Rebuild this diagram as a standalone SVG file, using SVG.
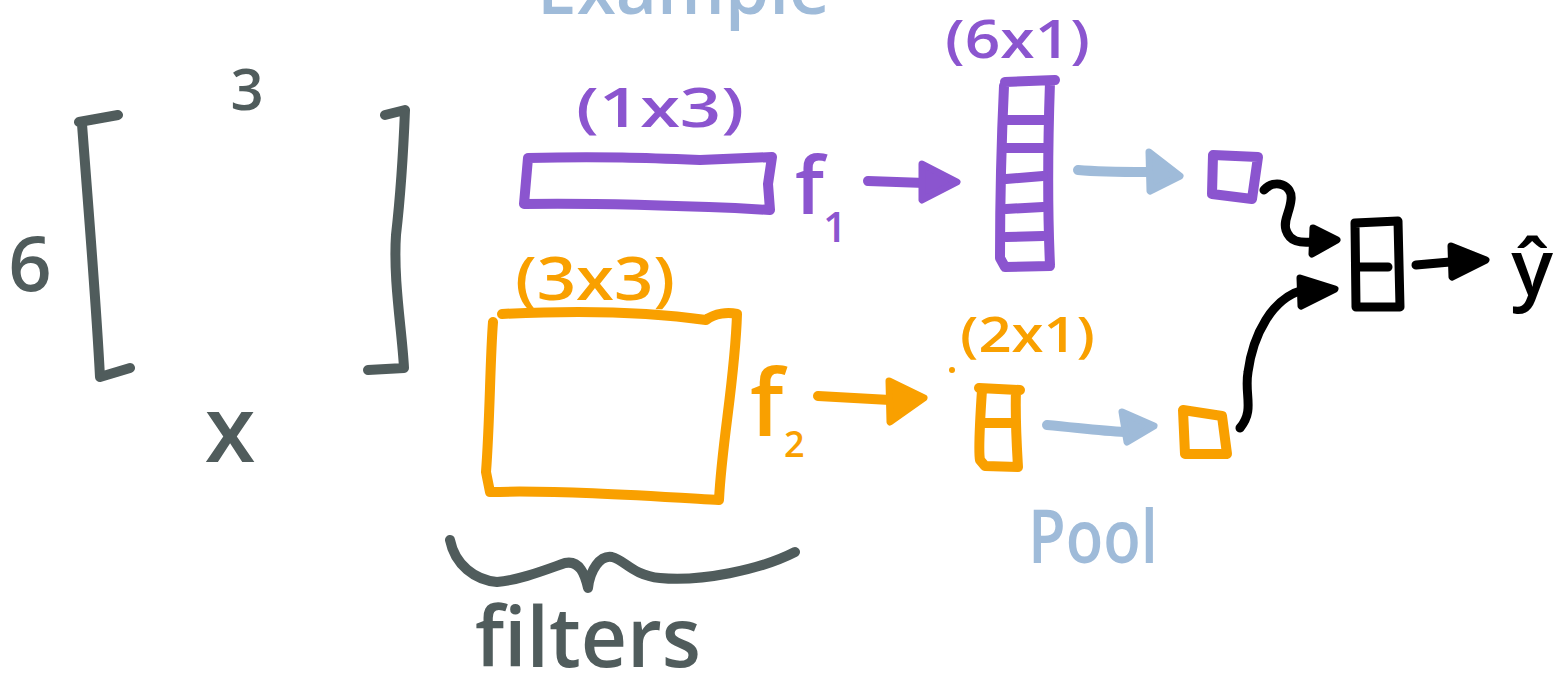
<svg xmlns="http://www.w3.org/2000/svg" width="1559" height="692" viewBox="0 0 1559 692">
<style>
.s{fill:none;stroke-width:10;stroke-linecap:round;stroke-linejoin:round}
.g{stroke:#505c5c}.p{stroke:#8b55cf}.o{stroke:#f9a000}.b{stroke:#9fbbd9}.k{stroke:#000;stroke-width:9}
.h{stroke-width:7;stroke-linejoin:round}
.hp{fill:#8b55cf;stroke:#8b55cf}.hb{fill:#9fbbd9;stroke:#9fbbd9}.ho{fill:#f9a000;stroke:#f9a000}.hk{fill:#000;stroke:#000}
text{font-family:"Open Sans","Liberation Sans",sans-serif;font-weight:600}
.tg{fill:#505c5c}.tp{fill:#8b55cf}.to{fill:#f9a000}.tb{fill:#9fbbd9}.tk{fill:#000}
</style>
<rect width="1559" height="692" fill="#fff"/>
<g id="title"><text class="tb" x="537" y="14" font-size="72" textLength="293" lengthAdjust="spacingAndGlyphs">Example</text></g>
<g id="input-matrix">
<path class="s g" d="M118,115 L79,122 M82,124 C90,230 96,300 100,377 L130,368"/>
<path class="s g" d="M385,115 L405,110 C403,160 400,200 396,235 C393,280 402,330 404,368 L368,370"/>
<text class="tg" x="247" y="110" font-size="58" text-anchor="middle">3</text>
<text class="tg" x="30" y="291" font-size="76" text-anchor="middle">6</text>
<text class="tg" x="230" y="462" font-size="92" text-anchor="middle">x</text>
</g>
<g id="filter1">
<path class="s p" d="M528,158 C600,156 650,158 700,160 L772,157 L768,184 L770,210 L735,208 C660,205 580,203 524,204 L528,158"/>
<text class="tp" x="576" y="127" font-size="55" textLength="168" lengthAdjust="spacingAndGlyphs">(1x3)</text>
<text class="tp" x="795" y="214" font-size="80">f</text>
<text class="tp" x="823" y="242" font-size="42">1</text>
</g>
<g id="filter2">
<path class="s o" d="M502,314 C580,310 650,312 706,320 C715,313 728,312 737,314 C735,380 722,440 719,500 C650,496 560,490 490,492 L486,472 C490,420 490,360 493,322"/>
<text class="to" x="515" y="300" font-size="60" textLength="160" lengthAdjust="spacingAndGlyphs">(3x3)</text>
<text class="to" x="750" y="436" font-size="92">f</text>
<text class="to" x="784" y="457" font-size="36">2</text>
</g>
<g id="featuremap1">
<path class="s p" d="M1005,82 L1055,80 M1004,86 C1001,150 1000,210 1000,258 L1005,267 L1050,266 M1050,82 C1048,140 1047,200 1050,265"/>
<path class="s p" d="M1006,120 L1046,120 M1006,148 L1044,148 M1006,179 L1043,176 M1006,209 L1043,207 M1006,237 L1043,236"/>
<text class="tp" x="945" y="58" font-size="52" textLength="145" lengthAdjust="spacingAndGlyphs">(6x1)</text>
</g>
<g id="featuremap2">
<path class="s o" d="M979,388 L1020,390 M982,390 C980,420 978,450 980,460 L985,466 L1018,467 M1016,390 C1015,420 1017,450 1018,467 M982,423 L1012,423"/>
<text class="to" x="960" y="352" font-size="48" textLength="135" lengthAdjust="spacingAndGlyphs">(2x1)</text>
<circle cx="952" cy="370" r="3" fill="#f9a000"/>
</g>
<g id="pool1"><path class="s p" d="M1213,155 L1258,157 L1252,199 L1212,194 Z"/></g>
<g id="pool2"><path class="s o" d="M1183,410 L1222,416 L1227,454 L1185,454 Z"/></g>
<g id="concat"><path class="s k" d="M1355,223 L1398,221 L1400,307 L1356,307 Z M1358,267 L1388,267"/></g>
<g id="output"><text class="tk" x="1532" y="295" font-size="78" text-anchor="middle">ŷ</text></g>
<g id="pool-label"><text class="tb" x="1028" y="563" font-size="75" textLength="130" lengthAdjust="spacingAndGlyphs">Pool</text></g>
<g id="filters-label">
<path class="s g" d="M450,540 C455,565 475,580 497,582 C520,580 545,570 565,563 C580,560 585,575 588,588 C590,570 600,555 612,557 C625,560 632,575 660,578 C700,582 760,570 795,552"/>
<text class="tg" x="475" y="667" font-size="84" textLength="226" lengthAdjust="spacingAndGlyphs">filters</text>
</g>
<g id="connectors">
<path class="s p" d="M868,181 L925,183"/>
<polygon class="h hp" points="922,164 957,182 922,200"/>
<path class="s b" d="M1078,170 C1100,172 1130,172 1147,172"/>
<polygon class="h hb" points="1149,152 1180,176 1150,191"/>
<path class="s o" d="M818,396 L890,400"/>
<polygon class="h ho" points="889,381 924,398 890,422"/>
<path class="s b" d="M1047,425 C1080,428 1100,431 1125,432"/>
<polygon class="h hb" points="1122,412 1154,426 1127,442"/>
<path class="s k" d="M1264,190 C1275,178 1293,185 1291,200 C1290,212 1283,220 1286,230 C1290,242 1300,243 1312,242"/>
<polygon class="h hk" points="1313,228 1337,240 1312,254"/>
<path class="s k" d="M1240,428 C1255,410 1244,395 1248,372 C1253,335 1272,298 1303,290"/>
<polygon class="h hk" points="1300,278 1335,289 1301,306"/>
<path class="s k" d="M1416,265 L1450,262"/>
<polygon class="h hk" points="1451,246 1486,260 1452,277"/>
</g>
</svg>
